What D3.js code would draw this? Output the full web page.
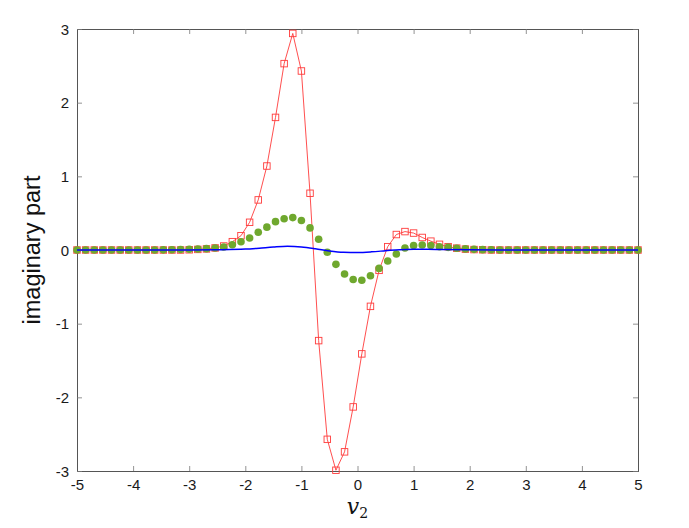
<!DOCTYPE html>
<html>
<head>
<meta charset="utf-8">
<script src="https://cdn.jsdelivr.net/npm/d3@7"></script>
<style>
html,body{margin:0;padding:0;background:#fff;}
svg{display:block;}
</style>
</head>
<body>
<svg id="chart" width="689" height="528"></svg>
<script>
// ---- data ----
const nPts = 66;
const xSamples = d3.range(nPts).map(i => -5 + i * 10 / (nPts - 1));
// red squares (66 values, index 0..65)
const redValues = [
  0,0,0,0,0,0,0,0,0,0,
  0,0,0,0.003,0.008,0.015,0.028,0.054,0.113,0.194,
  0.376,0.68,1.14,1.80,2.53,2.94,2.43,0.77,-1.23,-2.57,
  -2.99,-2.74,-2.13,-1.41,-0.765,-0.276,0.045,0.21,0.25,0.23,
  0.17,0.12,0.077,0.045,0.025,0.012,0.006,0.003,0,0,
  0,0,0,0,0,0,0,0,0,0,
  0,0,0,0,0,0
];
// green dots
const greenValues = [
  0,0,0,0,0,0,0,0,0,0,
  0.002,0.004,0.006,0.01,0.013,0.018,0.027,0.04,0.072,0.113,
  0.163,0.24,0.31,0.385,0.425,0.44,0.40,0.30,0.145,-0.03,
  -0.195,-0.326,-0.40,-0.41,-0.35,-0.25,-0.15,-0.054,0.027,0.06,
  0.068,0.06,0.045,0.036,0.023,0.015,0.009,0.005,0.003,0.001,
  0,0,0,0,0,0,0,0,0,0,
  0,0,0,0,0,0
];
// blue smooth curve
const blueX = [-5,-3,-2.5,-2,-1.75,-1.5,-1.25,-1,-0.75,-0.5,-0.25,0,0.25,0.5,0.75,1,1.25,1.5,2,2.5,3,5];
const blueY = [0,0,0.003,0.012,0.025,0.04,0.05,0.042,0.018,-0.012,-0.03,-0.033,-0.025,-0.01,0.005,0.01,0.01,0.007,0.003,0.001,0,0];
const xTicks = [-5,-4,-3,-2,-1,0,1,2,3,4,5];
const yTicks = [-3,-2,-1,0,1,2,3];

// ---- layout ----
const L = 77, R = 638, T = 29, B = 471;
const svg = d3.select("#chart");
const x = d3.scaleLinear().domain([-5,5]).range([L,R]);
const y = d3.scaleLinear().domain([-3,3]).range([B,T]);
const axisColor = "#555555";
const font = "'Liberation Sans', Arial, Helvetica, sans-serif";

svg.append("defs").append("clipPath").attr("id","clip")
  .append("rect").attr("x",L-6).attr("y",T-6).attr("width",R-L+12).attr("height",B-T+12);

// axes with inward ticks
const gx = svg.append("g").attr("transform",`translate(0,${B})`)
  .call(d3.axisBottom(x).tickValues(xTicks).tickSize(-5).tickPadding(8).tickFormat(d3.format("d")));
const gxt = svg.append("g").attr("transform",`translate(0,${T})`)
  .call(d3.axisTop(x).tickValues(xTicks).tickSize(-5).tickFormat(""));
const gy = svg.append("g").attr("transform",`translate(${L},0)`)
  .call(d3.axisLeft(y).tickValues(yTicks).tickSize(-5).tickPadding(8).tickFormat(d3.format("d")));
const gyr = svg.append("g").attr("transform",`translate(${R},0)`)
  .call(d3.axisRight(y).tickValues(yTicks).tickSize(-5).tickFormat(""));
[gx,gxt,gy,gyr].forEach(g=>{
  g.select(".domain").attr("stroke",axisColor).attr("stroke-width",1);
  g.selectAll(".tick line").attr("stroke","#777").attr("stroke-width",0.8);
  g.selectAll(".tick text").attr("fill","#1a1a1a").style("font-family",font).style("font-size","15px");
});
gx.selectAll(".tick text").text(d => d < 0 ? "-" + Math.abs(d) : d);
gy.selectAll(".tick text").text(d => d < 0 ? "-" + Math.abs(d) : d).attr("dy","0.35em");

const plot = svg.append("g").attr("clip-path","url(#clip)");

// red line + squares
const redColor = "#ff3b3b";
const redData = xSamples.map((xv,i)=>({x:xv,y:redValues[i]}));
plot.append("path").datum(redData)
  .attr("fill","none").attr("stroke",redColor).attr("stroke-width",0.9)
  .attr("d", d3.line().x(d=>x(d.x)).y(d=>y(d.y)));
const sq = 6.5;
plot.selectAll("rect.red").data(redData).enter().append("rect")
  .attr("class","red")
  .attr("x",d=>x(d.x)-sq/2).attr("y",d=>y(d.y)-sq/2)
  .attr("width",sq).attr("height",sq)
  .attr("fill","none").attr("stroke",redColor).attr("stroke-width",0.9);

// green dots
const greenColor = "#6fa82e";
const greenData = xSamples.map((xv,i)=>({x:xv,y:greenValues[i]}));
plot.selectAll("circle.green").data(greenData).enter().append("circle")
  .attr("class","green")
  .attr("cx",d=>x(d.x)).attr("cy",d=>y(d.y)).attr("r",3.8)
  .attr("fill",greenColor);

// blue line
const blueData = blueX.map((xv,i)=>({x:xv,y:blueY[i]}));
plot.append("path").datum(blueData)
  .attr("fill","none").attr("stroke","#0000ff").attr("stroke-width",1.5)
  .attr("d", d3.line().curve(d3.curveMonotoneX).x(d=>x(d.x)).y(d=>y(d.y)));

// labels
svg.append("text")
  .attr("transform",`translate(40,${(T+B)/2}) rotate(-90)`)
  .attr("text-anchor","middle")
  .style("font-family",font).style("font-size","23.5px").attr("fill","#111")
  .text("imaginary part");
const xl = svg.append("text")
  .attr("x",(L+R)/2).attr("y",514)
  .attr("text-anchor","middle")
  .style("font-family","'DejaVu Serif', 'Liberation Serif', serif").attr("fill","#111");
xl.append("tspan").style("font-style","italic").style("font-size","22px").text("v");
xl.append("tspan").attr("dy",4).style("font-size","14px").text("2");
</script>
</body>
</html>
